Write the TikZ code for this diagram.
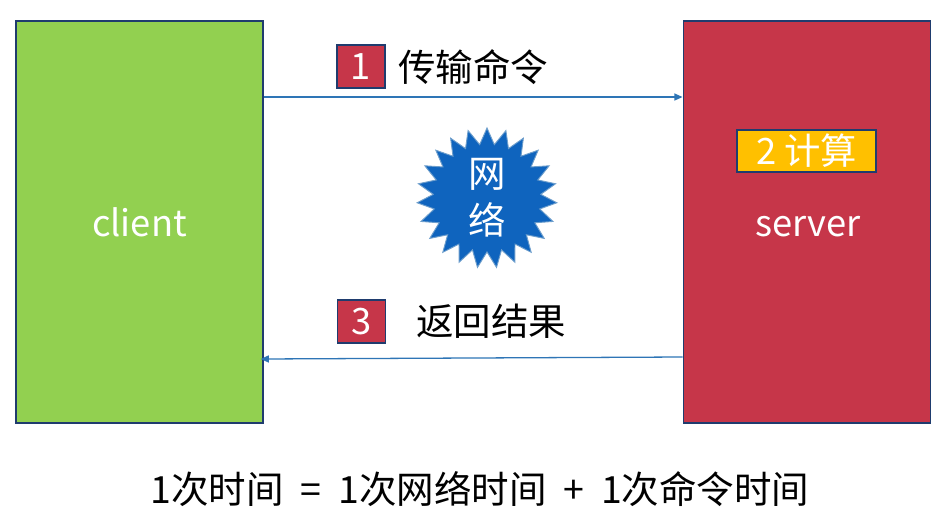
\documentclass[tikz,border=0pt]{standalone}
\usepackage{fontspec}
\setmainfont{Noto Sans CJK SC}
\usetikzlibrary{shapes.geometric,arrows.meta}
\definecolor{clientgreen}{HTML}{92D050}
\definecolor{serverred}{HTML}{C63649}
\definecolor{navy}{HTML}{1F3C6E}
\definecolor{linkblue}{HTML}{2E75B6}
\definecolor{burstblue}{HTML}{0F64BE}
\definecolor{calcyellow}{HTML}{FFC000}
\tikzset{
  px/.style={x=0.03cm,y=-0.03cm},
  hostbox/.style={draw=navy,line width=1.6pt,minimum width=7.41cm,minimum height=12.06cm},
  hostname/.style={anchor=base,inner sep=0pt,text=white,font=\fontsize{31}{31}\selectfont},
  stepbadge/.style={draw=navy,line width=1.4pt,fill=serverred,minimum width=1.44cm,minimum height=1.29cm,
    inner sep=0pt,text=white,font=\fontsize{31}{31}\selectfont},
  steplabel/.style={anchor=west,inner sep=0pt,font=\fontsize{32}{32}\selectfont},
  link/.style={draw=linkblue,line width=1.1pt,-{Triangle[length=7pt,width=6pt]}},
}
\begin{document}
\begin{tikzpicture}[px]
  \useasboundingbox (0,0) rectangle (943,519);
  \fill[white] (0,0) rectangle (943,519);

  % the two hosts
  \node[hostbox,fill=clientgreen] (client) at (139.5,222) {};
  \node[hostbox,fill=serverred] (server) at (807,222) {};
  \node[hostname] (clientname) at (139.5,236) {client};
  \node[hostname] (servername) at (808,236) {server};

  % computation tag inside the server
  \node[draw=navy,line width=1.4pt,fill=calcyellow,minimum width=4.17cm,minimum height=1.26cm,
        inner sep=0pt,text=white,font=\fontsize{31}{31}\selectfont] (calc) at (806.5,151) {2 计算};

  % network in between
  \node[star,star points=23,star point ratio=1.3,fill=burstblue,draw=linkblue!70,line width=0.8pt,
        minimum size=4.2cm,inner sep=0pt] (net) at (487,198) {};
  \node[text=white,align=center,font=\fontsize{32}{40}\selectfont] (netlabel) at (net.center) {网\\络};

  % request
  \coordinate (reqA) at (client.east |- 0,97);
  \coordinate (reqB) at (server.west |- 0,97);
  \draw[link] (reqA) -- (reqB);
  \node[stepbadge] (s1) at (361,66.5) {1};
  \node[steplabel] (l1) at (398,67) {传输命令};

  % response
  \coordinate (resA) at (server.west |- 0,357);
  \coordinate (resB) at ([xshift=-0.1cm]client.east |- 0,359);
  \draw[link] (resA) -- (resB);
  \node[stepbadge] (s3) at (361.5,321.5) {3};
  \node[steplabel] (l3) at (416,321) {返回结果};

  % summary
  \node[font=\fontsize{32}{32}\selectfont] (sum) at (480,489)
    {1次时间\hspace{0.45em}=\hspace{0.45em}1次网络时间\hspace{0.45em}+\hspace{0.45em}1次命令时间};
\end{tikzpicture}
\end{document}
